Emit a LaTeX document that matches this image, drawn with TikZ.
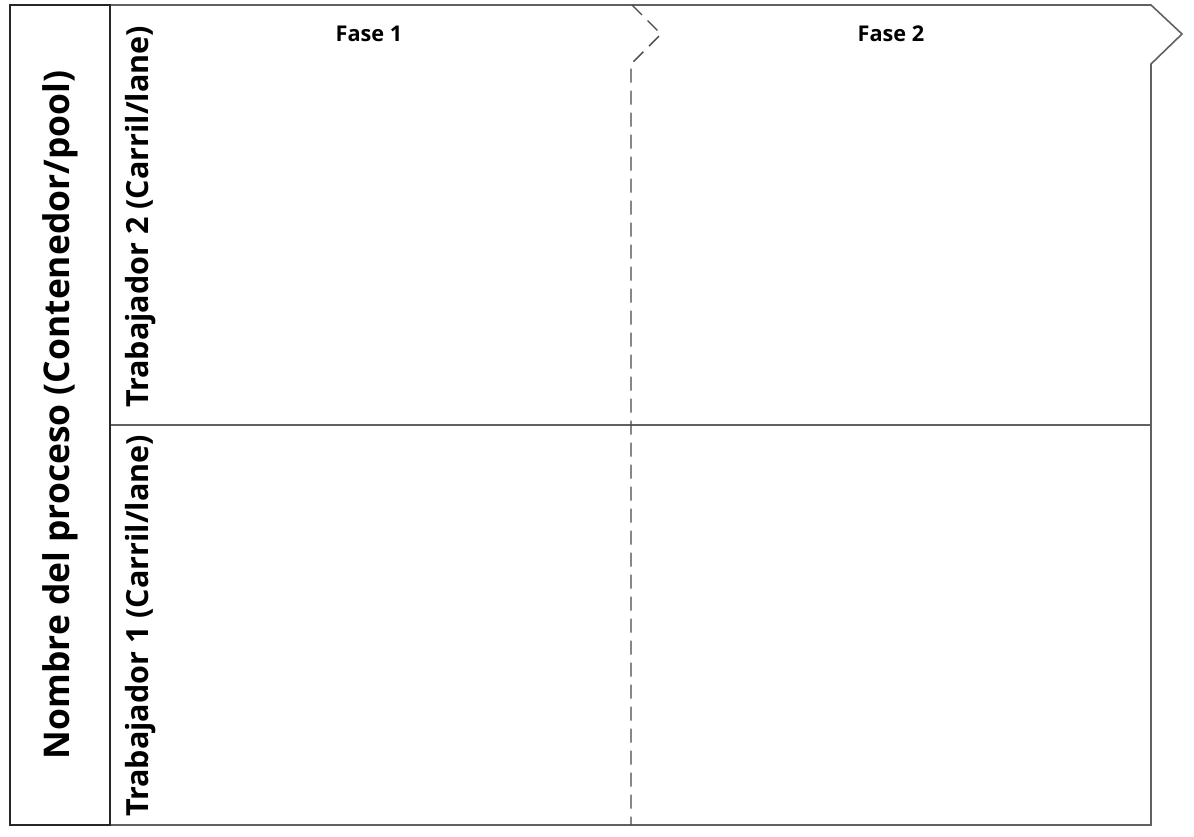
\documentclass[tikz,border=0pt]{standalone}
\usepackage{fontspec}
\setmainfont{Open Sans}
\begin{document}
\begin{tikzpicture}[x=1pt,y=-1pt,
  poolline/.style={draw=black!85, line width=1.6pt},
  laneline/.style={draw=black!62, line width=1.6pt},
  sepline/.style={draw=black!72, line width=1.4pt, dash pattern=on 14pt off 8pt},
  lanelbl/.style={font=\bfseries\fontsize{30.5}{34}\selectfont, inner sep=0pt, rotate=90},
  poollbl/.style={font=\bfseries\fontsize{35.4}{40}\selectfont, inner sep=0pt, rotate=90},
  phaselbl/.style={font=\bfseries\fontsize{21.7}{25}\selectfont, inner sep=0pt},
]
\useasboundingbox (0,0) rectangle (1194,836);
% corner coordinates
\coordinate (pTL) at (10,5);
\coordinate (pBR) at (110,825);
\coordinate (hTL) at (110,5);
\coordinate (cTop) at (1151,5);
\coordinate (cTip) at (1182,34);
\coordinate (cBot) at (1151,64);
\coordinate (rBR) at (1151,825);
\coordinate (hBL) at (110,825);
\coordinate (midL) at (110,425);
\coordinate (midR) at (1151,425);
\coordinate (sTop) at (632,5);
\coordinate (sTip) at (661,34);
\coordinate (sBot) at (631,64);
\coordinate (sEnd) at (631,825);
% lanes outline
\draw[laneline] (hTL) -- (cTop) -- (cTip) -- (cBot) -- (rBR) -- (hBL);
\draw[laneline] (midL) -- (midR);
% phase separator
\draw[sepline] (sTop) -- (sTip) -- (sBot) -- (sEnd);
% pool header
\draw[poolline] (pTL) rectangle (pBR);
% labels
\node[poollbl] (pool) at (60,415) {Nombre del proceso (Contenedor/pool)};
\node[lanelbl] (lane2) at (141,217) {Trabajador 2 (Carril/lane)};
\node[lanelbl] (lane1) at (141,626) {Trabajador 1 (Carril/lane)};
\node[phaselbl] (fase1) at (369,34) {Fase 1};
\node[phaselbl] (fase2) at (891,34) {Fase 2};
\end{tikzpicture}
\end{document}
